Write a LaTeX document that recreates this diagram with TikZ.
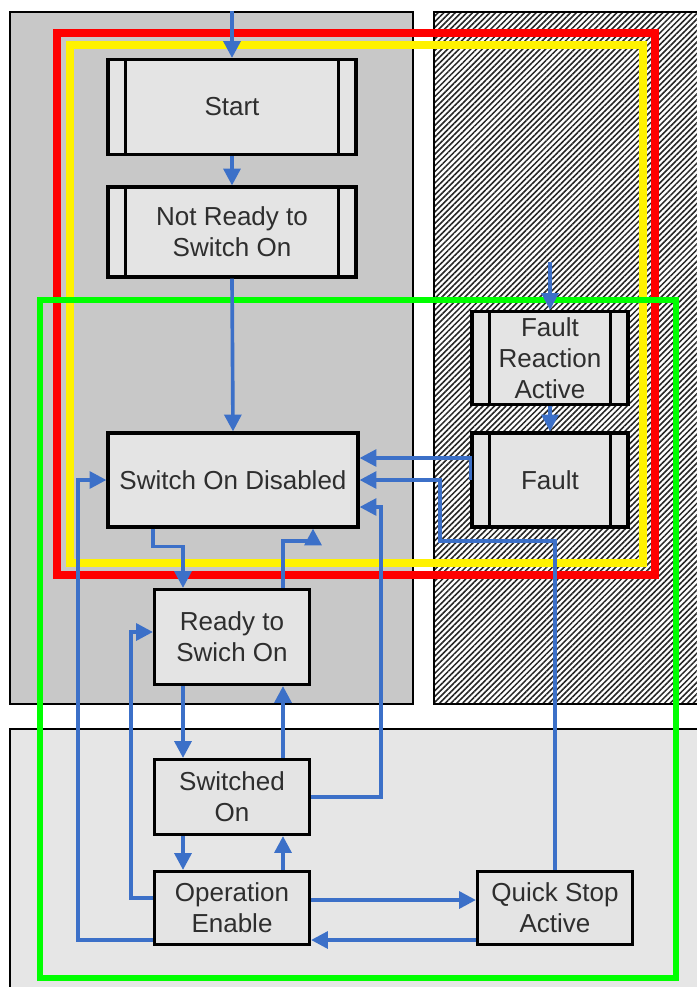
\documentclass[tikz,border=0pt]{standalone}
\usepackage{fontspec}
\setmainfont{Liberation Sans}
\usetikzlibrary{calc, arrows.meta, patterns.meta}
\definecolor{flowblue}{RGB}{60,112,200}
\definecolor{panelgrey}{RGB}{200,200,200}
\definecolor{lowpanel}{RGB}{230,230,230}
\definecolor{boxgrey}{RGB}{228,228,228}

\begin{document}
\begin{tikzpicture}[x=0.025cm, y=-0.025cm,
	every node/.style={font=\fontsize{18.5}{22}\selectfont, text=black!82, align=center},
	state/.style={draw=black, fill=boxgrey, line width=2.2pt, inner sep=0pt},
	proc/.style={state, path picture={
		\draw[line width=2.2pt] ([xshift=0.43cm]path picture bounding box.north west) -- ([xshift=0.43cm]path picture bounding box.south west);
		\draw[line width=2.2pt] ([xshift=-0.43cm]path picture bounding box.north east) -- ([xshift=-0.43cm]path picture bounding box.south east);}},
	flow/.style={draw=flowblue, line width=2.6pt, -{Triangle[length=12pt,width=12pt]}},
	panel/.style={draw=black, line width=2pt}]
	\clip (0,0) rectangle (697,987);
	\fill[white] (0,0) rectangle (697,987);
	\path[panel, fill=panelgrey] (10,12) rectangle (413,704);
	\fill[white] (434,12) rectangle (710,704);
	\path[panel, pattern={Lines[angle=45,distance=2.9pt,line width=1.1pt]}, pattern color=black!85] (434,12) rectangle (710,704);
	\path[panel, fill=lowpanel] (10,729) rectangle (710,1000);
	\draw[red, line width=5pt] (57,33) rectangle (655,575);
	\draw[yellow, line width=5pt] (70,45) rectangle (643,563);
	\draw[green, line width=4.3pt] (40,300) rectangle (676,978);
	\node[proc, minimum width=6.2cm, minimum height=2.375cm] (start) at (232,107) {Start};
	\node[proc, minimum width=6.2cm, minimum height=2.25cm] (notready) at (232,232) {Not Ready to\\Switch On};
	\node[state, minimum width=6.25cm, minimum height=2.35cm] (sod) at (233,480) {Switch On Disabled};
	\node[proc, minimum width=3.9cm, minimum height=2.325cm] (fra) at (550,358) {Fault\\Reaction\\Active};
	\node[proc, minimum width=3.9cm, minimum height=2.35cm] (fault) at (550,480) {Fault};
	\node[state, minimum width=3.875cm, minimum height=2.375cm] (rso) at (232,637) {Ready to\\Swich On};
	\node[state, minimum width=3.875cm, minimum height=1.875cm] (swon) at (232,797) {Switched\\On};
	\node[state, minimum width=3.875cm, minimum height=1.825cm] (opena) at (232,908) {Operation\\Enable};
	\node[state, minimum width=3.875cm, minimum height=1.825cm] (qsa) at (555,908) {Quick Stop\\Active};
	\coordinate (startin) at (232,11);
	\coordinate (faultin) at (550,262);
	\draw[flow] (startin) -- (start.north);
	\draw[flow] (start.south) -- (notready.north);
	\draw[flow] (notready.south) -- (sod.north);
	\draw[flow] (faultin) -- (fra.north);
	\draw[flow] (fra.south) -- (fault.north);
	\draw[flow] (fault.west) -- ++(0,-22) -- ($(sod.east)+(0,-22)$);
	\draw[flow] (qsa.north) -- ++(0,-329) -- ++(-115,0) |- (sod.east);
	\draw[flow] (swon.east) -- ++(70,0) |- ($(sod.east)+(0,27)$);
	\draw[flow] ($(sod.south)+(-80,0)$) -- ++(0,18) -| ($(rso.north)+(-49,0)$);
	\draw[flow] ($(rso.north)+(51,0)$) -- ++(0,-47) -| ($(sod.south)+(80,0)$);
	\draw[flow] ($(rso.south)+(-49,0)$) -- ($(swon.north)+(-49,0)$);
	\draw[flow] ($(swon.north)+(51,0)$) -- ($(rso.south)+(51,0)$);
	\draw[flow] ($(swon.south)+(-49,0)$) -- ($(opena.north)+(-49,0)$);
	\draw[flow] ($(opena.north)+(51,0)$) -- ($(swon.south)+(51,0)$);
	\draw[flow] ($(opena.east)+(0,-8)$) -- ($(qsa.west)+(0,-8)$);
	\draw[flow] ($(qsa.west)+(0,32)$) -- ($(opena.east)+(0,32)$);
	\draw[flow] ($(opena.west)+(0,32)$) -- ++(-75,0) |- (sod.west);
	\draw[flow] ($(opena.west)+(0,-10)$) -- ++(-22,0) |- ($(rso.west)+(0,-5)$);
\end{tikzpicture}
\end{document}
